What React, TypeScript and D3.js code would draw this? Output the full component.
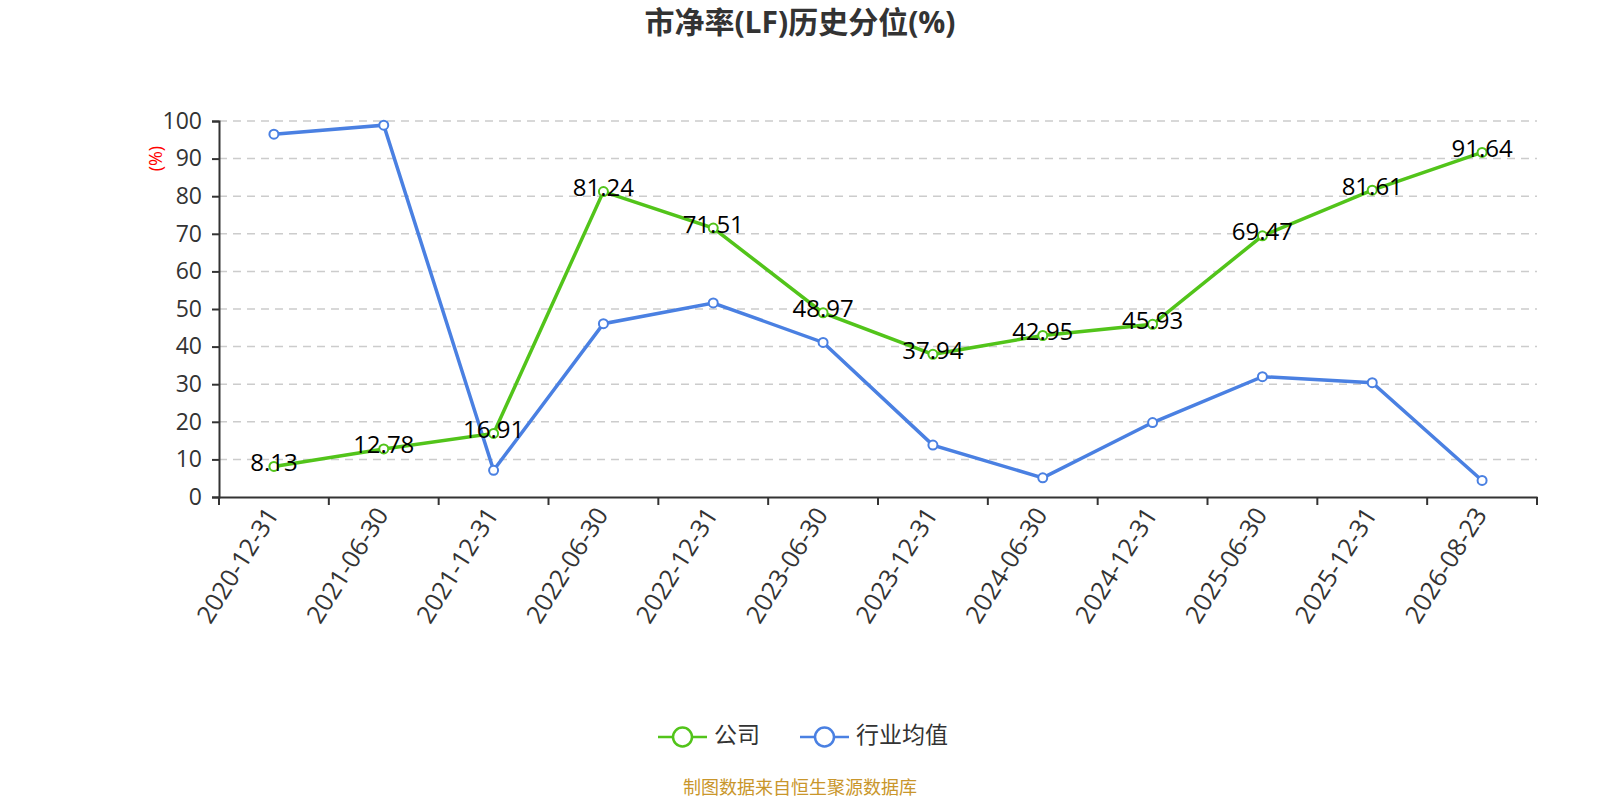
import { useEffect, useRef } from "react";
import * as d3 from "d3";

const categories = [
  "2020-12-31", "2021-06-30", "2021-12-31", "2022-06-30", "2022-12-31", "2023-06-30",
  "2023-12-31", "2024-06-30", "2024-12-31", "2025-06-30", "2025-12-31", "2026-08-23",
];
const companyValues = [8.13, 12.78, 16.91, 81.24, 71.51, 48.97, 37.94, 42.95, 45.93, 69.47, 81.61, 91.64];
const industryValues = [96.5, 98.9, 7.1, 46.1, 51.6, 41.1, 13.8, 5.1, 19.8, 32.0, 30.4, 4.4];
const yTicks = [0, 10, 20, 30, 40, 50, 60, 70, 80, 90, 100];

const GREEN = "#52c41a";
const BLUE = "#4a80e2";
const FONT = "'Open Sans', 'Noto Sans CJK SC', sans-serif";

export default function App() {
  const svgRef = useRef<SVGSVGElement>(null);

  useEffect(() => {
    if (!svgRef.current) return;
    document.body.style.margin = "0";
    document.body.style.overflow = "hidden";
    const svg = d3.select(svgRef.current);
    svg.selectAll("*").remove();

    const W = 1600;
    const H = 800;
    const margin = { top: 121, right: 63, bottom: 303, left: 219 };
    const width = W - margin.left - margin.right;
    const height = H - margin.top - margin.bottom;

    svg.attr("width", W).attr("height", H).style("font-family", FONT);

    // Title
    svg.append("text")
      .attr("x", W / 2)
      .attr("y", 33)
      .attr("text-anchor", "middle")
      .attr("font-size", 30)
      .attr("font-weight", "bold")
      .attr("fill", "#333")
      .text("市净率(LF)历史分位(%)");

    const g = svg.append("g").attr("transform", `translate(${margin.left},${margin.top})`);

    const x = d3.scaleBand<string>().domain(categories).range([0, width]);
    const y = d3.scaleLinear().domain([0, 100]).range([height, 0]);
    const cx = (c: string) => (x(c) ?? 0) + x.bandwidth() / 2;

    // Gridlines
    g.append("g")
      .selectAll("line")
      .data(yTicks.filter((t) => t > 0))
      .enter()
      .append("line")
      .attr("x1", 0)
      .attr("x2", width)
      .attr("y1", (d) => y(d))
      .attr("y2", (d) => y(d))
      .attr("stroke", "#ccc")
      .attr("stroke-width", 1.5)
      .attr("stroke-dasharray", "8,6");

    // Y axis
    const yAxis = g.append("g")
      .call(d3.axisLeft(y).tickValues(yTicks).tickSize(7).tickPadding(10))
      .call((sel) => sel.select(".domain").attr("stroke", "#333").attr("stroke-width", 2));
    yAxis.selectAll(".tick line").attr("stroke", "#333").attr("stroke-width", 2);
    yAxis.selectAll("text")
      .attr("font-size", 23)
      .attr("font-family", FONT)
      .attr("fill", "#333");

    // Y axis name
    g.append("text")
      .attr("transform", `translate(-62,${y(90)}) rotate(-90)`)
      .attr("text-anchor", "middle")
      .attr("dominant-baseline", "middle")
      .attr("font-size", 18)
      .attr("fill", "red")
      .text("(%)");

    // X axis
    const xAxis = g.append("g")
      .attr("transform", `translate(0,${height})`)
      .call(d3.axisBottom(x).tickSize(0).tickFormat(() => ""))
      .call((sel) => sel.select(".domain").attr("stroke", "#333").attr("stroke-width", 2));
    xAxis.selectAll(".tick").remove();

    // Boundary ticks
    g.append("g")
      .selectAll("line")
      .data(d3.range(categories.length + 1))
      .enter()
      .append("line")
      .attr("x1", (i) => i * x.step())
      .attr("x2", (i) => i * x.step())
      .attr("y1", height)
      .attr("y2", height + 8)
      .attr("stroke", "#333")
      .attr("stroke-width", 2);

    // X labels
    g.append("g")
      .selectAll("text")
      .data(categories)
      .enter()
      .append("text")
      .attr("transform", (d) => `translate(${cx(d)},${height + 14}) rotate(-58)`)
      .attr("text-anchor", "end")
      .attr("dominant-baseline", "middle")
      .attr("font-size", 25)
      .attr("fill", "#333")
      .text((d) => d);

    const line = d3
      .line<number>()
      .x((_, i) => cx(categories[i]))
      .y((d) => y(d));

    const drawSeries = (values: number[], color: string) => {
      g.append("path")
        .datum(values)
        .attr("fill", "none")
        .attr("stroke", color)
        .attr("stroke-width", 3.5)
        .attr("d", line);
      g.append("g")
        .selectAll("circle")
        .data(values)
        .enter()
        .append("circle")
        .attr("cx", (_, i) => cx(categories[i]))
        .attr("cy", (d) => y(d))
        .attr("r", 4.5)
        .attr("fill", "#fff")
        .attr("stroke", color)
        .attr("stroke-width", 2);
    };

    drawSeries(industryValues, BLUE);
    drawSeries(companyValues, GREEN);

    // Company labels
    g.append("g")
      .selectAll("text")
      .data(companyValues)
      .enter()
      .append("text")
      .attr("x", (_, i) => cx(categories[i]))
      .attr("y", (d) => y(d) - 2)
      .attr("text-anchor", "middle")
      .attr("dominant-baseline", "middle")
      .attr("font-size", 24)
      .attr("fill", "#000")
      .text((d) => d.toFixed(2));

    // Legend
    const legend = svg.append("g").attr("transform", "translate(0,737)");
    const items = [
      { name: "公司", color: GREEN, x: 658 },
      { name: "行业均值", color: BLUE, x: 800 },
    ];
    items.forEach((it) => {
      const lg = legend.append("g").attr("transform", `translate(${it.x},0)`);
      lg.append("line")
        .attr("x1", 0).attr("x2", 49)
        .attr("y1", 0).attr("y2", 0)
        .attr("stroke", it.color)
        .attr("stroke-width", 2.5);
      lg.append("circle")
        .attr("cx", 24.5).attr("cy", 0).attr("r", 9.5)
        .attr("fill", "#fff")
        .attr("stroke", it.color)
        .attr("stroke-width", 2.5);
      lg.append("text")
        .attr("x", 56)
        .attr("y", 0)
        .attr("dominant-baseline", "middle")
        .attr("font-size", 23)
        .attr("fill", "#333")
        .text(it.name);
    });

    // Footer
    svg.append("text")
      .attr("x", W / 2)
      .attr("y", 789)
      .attr("text-anchor", "middle")
      .attr("dominant-baseline", "middle")
      .attr("font-size", 18)
      .attr("fill", "#c9962b")
      .text("制图数据来自恒生聚源数据库");
  }, []);

  return <svg ref={svgRef} style={{ display: "block", position: "absolute", left: 0, top: 0 }} />;
}
